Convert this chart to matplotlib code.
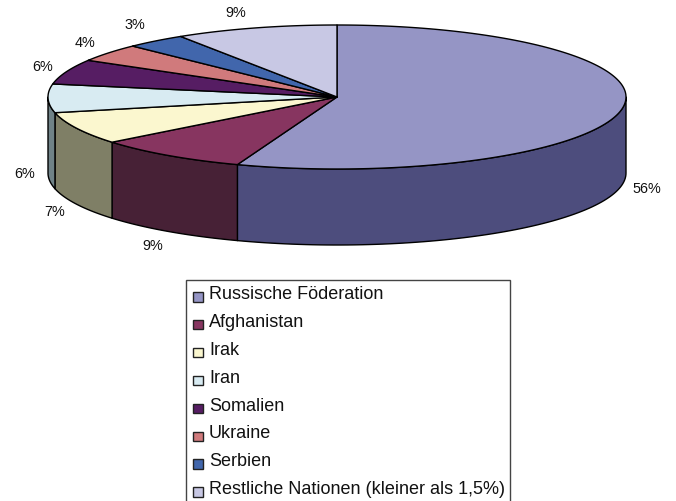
import numpy as np
import matplotlib
matplotlib.use('Agg')
import matplotlib.pyplot as plt
from matplotlib.patches import Polygon, Rectangle

plt.rcParams['font.family'] = ['Liberation Sans', 'DejaVu Sans']

nations = ['Russische Föderation', 'Afghanistan', 'Irak', 'Iran', 'Somalien',
           'Ukraine', 'Serbien', 'Restliche Nationen (kleiner als 1,5%)']
shares = [55.6, 8.6, 7.3, 6.4, 5.6, 4.0, 3.4, 9.1]
top_colors = ['#9595C5', '#873560', '#FBF7CF', '#D8EBF2',
              '#561D63', '#D07A7C', '#4166AC', '#C8C8E4']
side_colors = ['#4D4D7D', '#472136', '#7F7F66', '#6F8287']
label_xy = [(647, 189), (153, 246), (55, 212), (25, 174),
            (43, 67), (85, 43), (135, 25), (236, 13)]

# pie geometry in pixels
cx, cy = 337, 97
rx, ry = 289, 72
depth = 76


def rim(t):
    return cx + rx * np.sin(t), cy - ry * np.cos(t)


fig = plt.figure(figsize=(6.76, 5.01), dpi=100)
ax = fig.add_axes([0, 0, 1, 1])
ax.set_xlim(0, 676)
ax.set_ylim(501, 0)
ax.axis('off')

edges = np.cumsum([0] + shares) / sum(shares) * 2 * np.pi

# side wall, only the front half of the rim shows
for i, color in enumerate(side_colors):
    t0 = max(edges[i], np.pi / 2)
    t1 = min(edges[i + 1], 3 * np.pi / 2)
    t = np.linspace(t0, t1, 80)
    x, y = rim(t)
    pts = np.r_[np.c_[x, y], np.c_[x, y + depth][::-1]]
    ax.add_patch(Polygon(pts, fc=color, ec='black', lw=1.0, joinstyle='round'))

# top face
for i, color in enumerate(top_colors):
    t = np.linspace(edges[i], edges[i + 1], 160)
    x, y = rim(t)
    pts = np.r_[[[cx, cy]], np.c_[x, y]]
    ax.add_patch(Polygon(pts, fc=color, ec='black', lw=1.0, joinstyle='round'))

for share, (x, y) in zip(shares, label_xy):
    ax.text(x, y, f'{share:.0f}%', fontsize=10.4, color='#111111', ha='center', va='center')

# legend box runs off the bottom edge, so no lower border shows
ax.add_patch(Rectangle((186, 280), 324, 240, fc='white', ec='#444444', lw=1.0))
for i, (name, color) in enumerate(zip(nations, top_colors)):
    ax.add_patch(Rectangle((193, 292 + i * 27.9), 9.5, 9.5, fc=color, ec='#222222', lw=1.0))
    ax.text(209, 294.5 + i * 27.9, name, fontsize=13, color='#111111', ha='left', va='center')

fig.savefig('out.png', dpi=100)
